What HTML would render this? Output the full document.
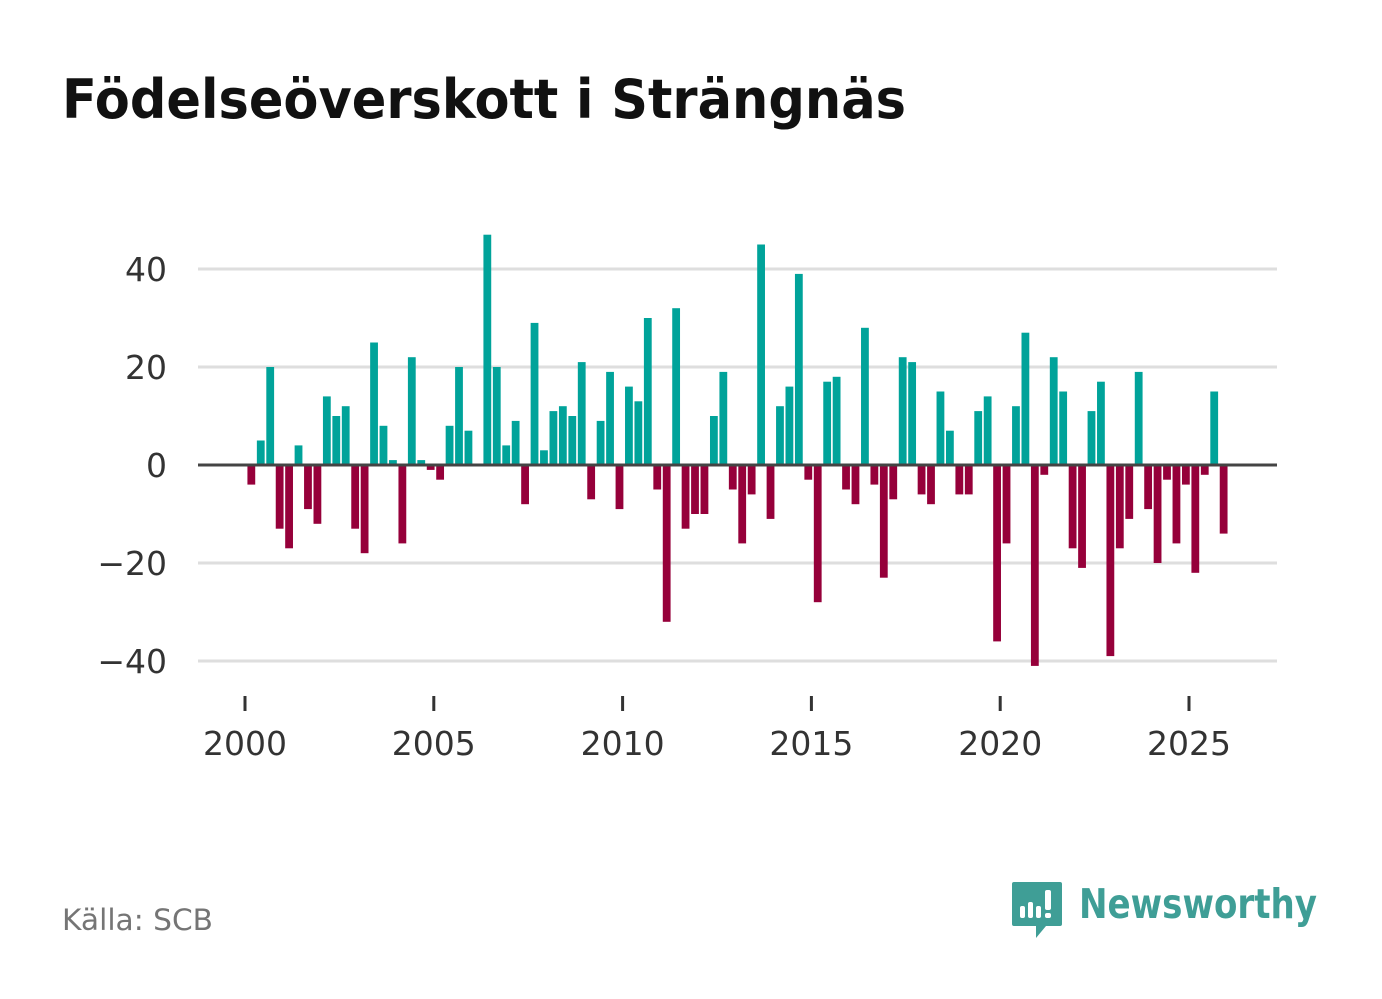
<!DOCTYPE html>
<html><head><meta charset="utf-8"><style>
html,body{margin:0;padding:0;background:#fff;}
svg{display:block;font-family:"DejaVu Sans","Liberation Sans",sans-serif;}
</style></head><body>
<svg id="chart" width="1382" height="999" viewBox="0 0 1382 999" xmlns="http://www.w3.org/2000/svg">
<rect width="1382" height="999" fill="#fff"/>
<text x="62" y="118" font-size="54" font-weight="bold" fill="#111" textLength="844" lengthAdjust="spacingAndGlyphs">Födelseöverskott i Strängnäs</text>
<g id="grid"></g>
<g id="ylabels"></g>
<g id="bars"></g>
<line x1="198" x2="1277" y1="465" y2="465" stroke="#444" stroke-width="3" id="zeroline"/>
<g id="xaxis"></g>
<text x="62" y="930" font-size="29" fill="#757575" textLength="151" lengthAdjust="spacingAndGlyphs">Källa: SCB</text>
<g>
<path d="M1014 882 h46 a2 2 0 0 1 2 2 v40 a2 2 0 0 1 -2 2 h-14 l-10 12 v-12 h-22 a2 2 0 0 1 -2 -2 v-40 a2 2 0 0 1 2 -2z" fill="#3f9e96"/>
<rect x="1020" y="906" width="5" height="12" rx="2" fill="#fff"/>
<rect x="1028" y="902" width="5" height="16" rx="2" fill="#fff"/>
<rect x="1036" y="906" width="5" height="12" rx="2" fill="#fff"/>
<rect x="1045" y="890" width="6" height="20" rx="2" fill="#fff"/>
<rect x="1045" y="913" width="6" height="5" rx="2" fill="#fff"/>
<text x="1079" y="918" font-size="41" font-weight="bold" fill="#3f9e96" textLength="238" lengthAdjust="spacingAndGlyphs">Newsworthy</text>
</g>
</svg>
<script>
const values = [-4,5,20,-13,-17,4,-9,-12,14,10,12,-13,-18,25,8,1,-16,22,1,-1,-3,8,20,7,0,47,20,4,9,-8,29,3,11,12,10,21,-7,9,19,-9,16,13,30,-5,-32,32,-13,-10,-10,10,19,-5,-16,-6,45,-11,12,16,39,-3,-28,17,18,-5,-8,28,-4,-23,-7,22,21,-6,-8,15,7,-6,-6,11,14,-36,-16,12,27,-41,-2,22,15,-17,-21,11,17,-39,-17,-11,19,-9,-20,-3,-16,-4,-22,-2,15,-14];
const startYear = 2000;
const yTicks = [40,20,0,-20,-40];
const yTickLabels = ["40","20","0","−20","−40"];
const xTicks = [2000,2005,2010,2015,2020,2025];
const xTickLabels = ["2000","2005","2010","2015","2020","2025"];

const NS="http://www.w3.org/2000/svg";
function yScale(v){return 465 - v*4.9;}
function xScale(t){return 245 + (t-2000)*37.76;}
function mk(tag,attrs,parent){const e=document.createElementNS(NS,tag);for(const k in attrs)e.setAttribute(k,attrs[k]);parent.appendChild(e);return e;}
const grid=document.getElementById('grid'),yl=document.getElementById('ylabels'),bars=document.getElementById('bars'),xa=document.getElementById('xaxis');
yTicks.forEach((t,i)=>{
  if(t!==0){const l=mk('line',{x1:198,x2:1277,y1:yScale(t),y2:yScale(t),stroke:'#dedede','stroke-width':3},grid);
  
  }
  const tx=mk('text',{x:167,y:yScale(t)+12,'font-size':33,fill:'#333','text-anchor':'end'},yl);
  tx.textContent=yTickLabels[i];
  
  
});
values.forEach((v,i)=>{
  const cx=xScale(startYear+(i+0.67)/4);
  const y0=yScale(0),y1=yScale(v);
  const r=mk('rect',{x:cx-3.9,width:7.8,y:Math.min(y0,y1),height:Math.abs(y1-y0),fill:v>=0?'#00a39a':'#96003a'},bars);
  
  
});
xTicks.forEach((t,i)=>{
  const l=mk('line',{x1:xScale(t),x2:xScale(t),y1:696,y2:711,stroke:'#333','stroke-width':3},xa);
  
  
  const tx=mk('text',{x:xScale(t),y:755,'font-size':33,fill:'#333','text-anchor':'middle'},xa);
  tx.textContent=xTickLabels[i];
  
  
});
</script>
</body></html>
